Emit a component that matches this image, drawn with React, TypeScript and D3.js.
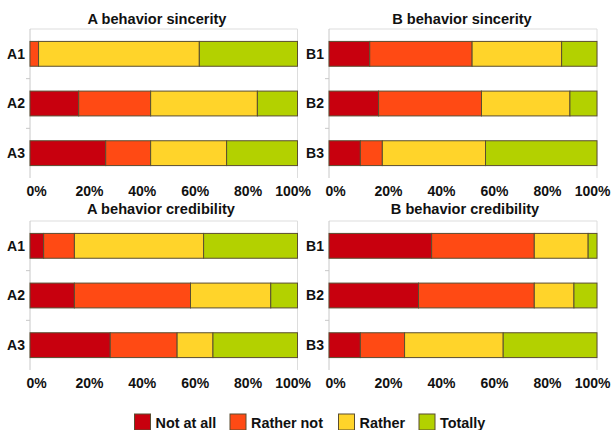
import React from "react";
import * as d3 from "d3";

const seriesNames = ["Not at all", "Rather not", "Rather", "Totally"];
const seriesColors = ["#C8000E", "#FF4A14", "#FFD42A", "#B3D100"];
const tickValues = [0, 20, 40, 60, 80, 100];

const aCategories = ["A1", "A2", "A3"];
const bCategories = ["B1", "B2", "B3"];

const aSincerity = [
  [0, 3.2, 60.1, 36.7],
  [18.2, 26.9, 39.9, 15.0],
  [28.3, 16.8, 28.4, 26.5],
];
const bSincerity = [
  [15.2, 38.2, 33.4, 13.2],
  [18.5, 38.4, 33.0, 10.1],
  [11.7, 8.2, 38.5, 41.6],
];
const aCredibility = [
  [5.1, 11.5, 48.3, 35.1],
  [16.6, 43.4, 30.0, 10.0],
  [30.0, 25.0, 13.4, 31.6],
];
const bCredibility = [
  [38.3, 38.3, 20.1, 3.3],
  [33.4, 43.2, 14.8, 8.6],
  [11.7, 16.5, 36.8, 35.0],
];

const FONT = "'Liberation Sans', Arial, sans-serif";
const STROKE = "#5a4d30";

type PanelProps = {
  title: string;
  cats: string[];
  values: number[][];
  x0: number;
  x1: number;
  y0: number;
  y1: number;
  titleX: number;
  titleY: number;
  tickY: number;
};

function Panel({ title, cats, values, x0, x1, y0, y1, titleX, titleY, tickY }: PanelProps) {
  const x = d3.scaleLinear().domain([0, 100]).range([x0, x1]);
  const y = d3.scaleBand<string>().domain(cats).range([y0, y1]).paddingInner(0.5).paddingOuter(0.25);
  const stack = values.map((row) => {
    let acc = 0;
    return row.map((v) => {
      const s = acc;
      acc += v;
      return [s, acc];
    });
  });
  const step = y.step();
  return (
    <g>
      <text x={titleX} y={titleY} textAnchor="middle" fontFamily={FONT} fontWeight="bold" fontSize={14.6} fill="#111">
        {title}
      </text>
      <line x1={x0} x2={x1} y1={y0} y2={y0} stroke="#dddddd" />
      <line x1={x0} x2={x0} y1={y0} y2={y1} stroke="#c8c8c8" />
      <line x1={x1} x2={x1} y1={y0} y2={y1} stroke="#dddddd" />
      {cats.slice(1).map((c) => (
        <line key={"t" + c} x1={x0 - 4} x2={x0} y1={(y(c) as number) - step * 0.25} y2={(y(c) as number) - step * 0.25} stroke="#c8c8c8" />
      ))}
      {cats.map((c, i) => (
        <g key={c}>
          {stack[i].map(([s, e], j) =>
            e - s > 0 ? (
              <rect
                key={j}
                x={x(s)}
                y={y(c)}
                width={x(e) - x(s)}
                height={y.bandwidth()}
                fill={seriesColors[j]}
                stroke={STROKE}
                strokeWidth={1}
              />
            ) : null
          )}
          <text
            x={x0 - 5}
            y={(y(c) as number) + y.bandwidth() / 2}
            dy="0.35em"
            textAnchor="end"
            fontFamily={FONT}
            fontWeight="bold"
            fontSize={14}
            fill="#111"
          >
            {c}
          </text>
        </g>
      ))}
      {tickValues.map((t, i) => {
        const last = i === tickValues.length - 1;
        return (
          <text
            key={t}
            x={last ? x(t) + 13.5 : x(t) + 6.5 - t * 0.03}
            y={tickY}
            textAnchor={last ? "end" : "middle"}
            fontFamily={FONT}
            fontWeight="bold"
            fontSize={14}
            fill="#111"
          >
            {t + "%"}
          </text>
        );
      })}
    </g>
  );
}

export default function App() {
  const legendX = [134.5, 230, 338.5, 419];
  return (
    <svg width={612} height={430} style={{ position: "absolute", left: 0, top: 0, background: "#fff" }}>
      <rect width={612} height={430} fill="#fff" />
      <Panel title="A behavior sincerity" cats={aCategories} values={aSincerity} x0={30} x1={297.5} y0={29} y1={178} titleX={157} titleY={24} tickY={196} />
      <Panel title="B behavior sincerity" cats={bCategories} values={bSincerity} x0={329} x1={597} y0={29} y1={178} titleX={462} titleY={24} tickY={196} />
      <Panel title="A behavior credibility" cats={aCategories} values={aCredibility} x0={30} x1={297.5} y0={221} y1={370} titleX={161} titleY={214} tickY={388} />
      <Panel title="B behavior credibility" cats={bCategories} values={bCredibility} x0={329} x1={597} y0={221} y1={370} titleX={465} titleY={214} tickY={388} />
      {seriesNames.map((n, i) => (
        <g key={n}>
          <rect x={legendX[i]} y={414} width={16} height={16} fill={seriesColors[i]} stroke={STROKE} strokeWidth={1} />
          <text x={legendX[i] + 21} y={428} fontFamily={FONT} fontWeight="bold" fontSize={14.4} fill="#111">
            {n}
          </text>
        </g>
      ))}
    </svg>
  );
}
